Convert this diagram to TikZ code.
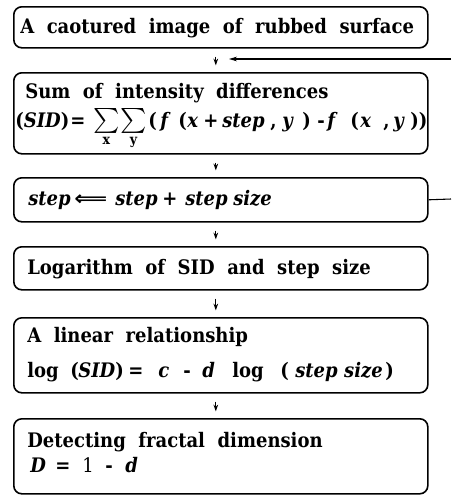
\documentclass[tikz,border=0pt]{standalone}
\usepackage{amsmath}
\usepackage{fontspec}
\setmainfont{DejaVu Serif}[FakeStretch=0.9,WordSpace=2.0]
\newfontfamily\symf{DejaVu Sans}
\usetikzlibrary{arrows.meta}
\newdimen\pxu \pxu=0.75pt
\newcommand\pc[2]{\makebox[#1\pxu][l]{#2}}
\newcommand\sm[1]{\smash{$\mathop{\text{\scalebox{1.3}{$\textstyle\sum$}}}\limits_{\text{\bfseries #1}}$}}
\begin{document}
\begin{tikzpicture}[x=0.75pt,y=-0.75pt,
  box/.style={draw,line width=1.2pt,rounded corners=6pt,minimum width={414*0.75pt},inner sep=0pt,anchor=north west},
  txt/.style={anchor=base west,inner sep=0pt,font=\fontsize{15}{18}\selectfont\bfseries},
  smallarr/.style={line width=0.8pt,-{Stealth[length=5pt,width=3.5pt]},shorten <=6pt,shorten >=5pt},
  fb/.style={line width=0.8pt}]
\useasboundingbox (0,0) rectangle (451,496);
% boxes
\node[box,minimum height={41*0.75pt}] (b1) at (13,6) {};
\node[box,minimum height={81*0.75pt}] (b2) at (13,72) {};
\node[box,minimum height={44*0.75pt}] (b3) at (13,177) {};
\node[box,minimum height={43*0.75pt}] (b4) at (13,246) {};
\node[box,minimum height={75*0.75pt}] (b5) at (13,317) {};
\node[box,minimum height={75*0.75pt}] (b6) at (13,418) {};
% texts
\node[txt] (t1) at (20,33) {A caotured image of rubbed surface};
\node[txt] (t2a) at (25,98) {Sum of intensity differences};
\node[txt] (t2b) at (15,127) {\pc{55}{(\textit{SID})}\pc{23}{=}\pc{27}{\sm{x}}\pc{28}{\sm{y}}\pc{12}{(}\pc{18}{\textit{f}}\pc{9}{(}\pc{16}{\textit{x}}\pc{19}{+}\pc{48}{\textit{step}}\pc{12}{,}\pc{20}{\textit{y}}\pc{15}{)}\pc{10}{-}\pc{23}{\textit{f}}\pc{10}{(}\pc{23}{\textit{x}}\pc{10}{,}\pc{17}{\textit{y}}))};
\node[txt] (t3) at (28,205) {\pc{46}{\textit{step}}\pc{41}{\scalebox{1.15}[1]{\symf ⟸}}\pc{47}{\textit{step}}\pc{23}{+}\pc{48}{\textit{step}}\textit{size}};
\node[txt] (t4) at (27,274) {Logarithm of SID and step size};
\node[txt] (t5a) at (27,342) {A linear relationship};
\node[txt] (t5b) at (27,377) {\pc{43}{log}\pc{8}{(}\pc{37}{\textit{SID}}\pc{13}{)}\pc{30}{=}\pc{25}{\textit{c}}\pc{19}{-}\pc{30}{\textit{d}}\pc{48}{log}\pc{15}{(}\pc{49}{\textit{step}}\pc{41}{\textit{size}})};
\node[txt] (t6a) at (27,447) {Detecting fractal dimension};
\node[txt] (t6b) at (30,472) {\pc{25}{\textit{D}}\pc{27}{=}\pc{23}{\mdseries 1}\pc{20}{-}\textit{d}};
% arrows between boxes
\draw[smallarr] ([xshift=-3.75pt]b1.south) -- ([xshift=-3.75pt]b2.north);
\draw[smallarr] ([xshift=-3.75pt]b2.south) -- ([xshift=-3.75pt]b3.north);
\draw[smallarr] ([xshift=-3.75pt]b3.south) -- ([xshift=-3.75pt]b4.north);
\draw[smallarr] ([xshift=-3.75pt]b4.south) -- ([xshift=-3.75pt]b5.north);
\draw[smallarr] ([xshift=-3.75pt]b5.south) -- ([xshift=-3.75pt]b6.north);
% feedback lines
\coordinate (fbtop) at (451,59);
\coordinate (fbtip) at (229,59);
\coordinate (fbbot) at (451,199);
\draw[fb,-{Stealth[length=6pt,width=3.5pt]}] (fbtop) -- (fbtip);
\draw[fb] (b3.east) -- (fbbot);
\end{tikzpicture}
\end{document}
